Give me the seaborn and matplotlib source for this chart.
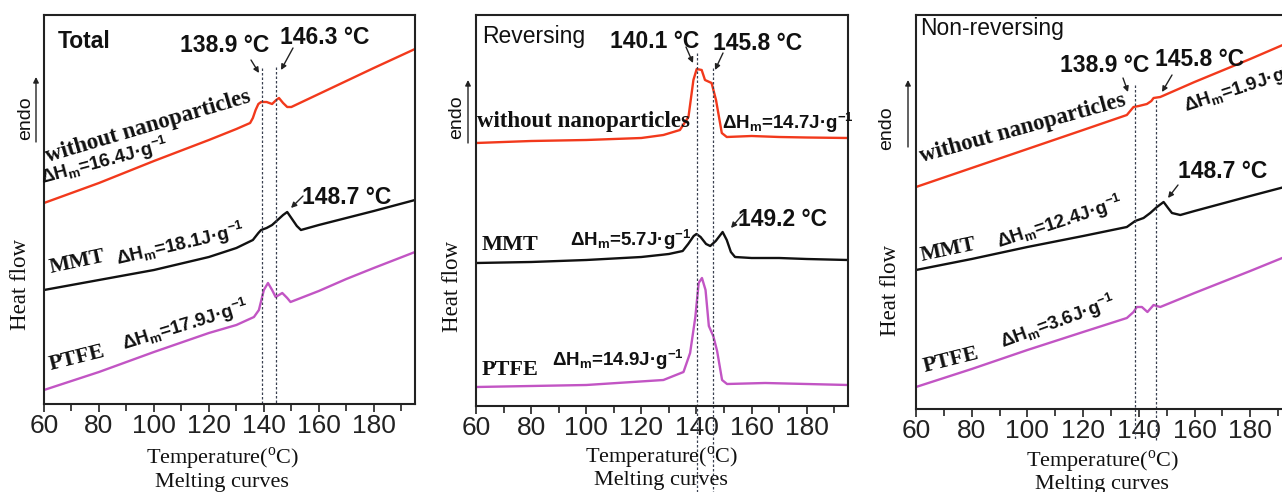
import matplotlib
matplotlib.use("Agg")
import matplotlib.pyplot as plt
import seaborn as sns
import pandas as pd

# ---------------- data (heat flow in arbitrary units) ----------------
# Panel 1: Total
tot_red_T = [60, 80, 100, 120, 130, 135, 136, 137, 138, 139, 141, 143, 144.5, 145.5, 147, 148.5, 150, 160, 170, 180, 195]
tot_red_H = [201, 221, 243, 264, 275, 281, 286, 294, 300, 302, 302, 300, 304, 306, 301, 297, 297, 310, 323, 336, 355]
tot_blk_T = [60, 80, 100, 120, 130, 136, 138, 139, 141, 143, 145, 147, 148.5, 150, 152, 153.5, 160, 170, 180, 195]
tot_blk_H = [114, 124, 134, 147, 156, 164, 171, 174, 176, 179, 184, 189, 192, 186, 178, 174, 179, 186, 193, 204]
tot_mag_T = [60, 80, 100, 120, 130, 136.4, 138.2, 140, 141.5, 143, 144.3, 146.7, 148.5, 149.7, 160, 170, 180, 195]
tot_mag_H = [14, 32, 52, 71, 79, 87, 94, 114, 121, 114, 107, 111, 106, 102, 113, 125, 136, 152]

# Panel 2: Reversing
rev_red_T = [60, 80, 100, 120, 128, 134, 137.1, 138.9, 140.1, 141.9, 143.1, 145.5, 147.1, 149.2, 151, 160, 165, 170, 180, 195]
rev_red_H = [263, 265, 266, 268, 271, 276, 289, 326, 337, 336, 326, 323, 306, 273, 269, 270, 269.5, 269, 268.5, 268]
rev_blk_T = [60, 80, 100, 120, 130, 135, 137, 139, 140, 141.5, 143.5, 145, 147, 149.5, 151, 152.5, 154, 160, 170, 180, 195]
rev_blk_H = [143, 144, 146, 149, 152, 155, 162, 170, 172, 169, 162, 160, 165, 174, 166, 154, 149, 148, 148, 147, 146]
rev_mag_T = [60, 100, 128, 135.3, 137.7, 139.6, 140.8, 142, 143.3, 144.5, 146.1, 147.5, 149.3, 151.1, 165, 180, 195]
rev_mag_H = [19, 21, 26, 34, 53, 89, 123, 128, 116, 80, 70, 55, 26, 22, 23, 22, 21]

# Panel 3: Non-reversing
non_red_T = [60, 80, 100, 120, 135.7, 138.1, 140, 142.9, 144.5, 145.3, 147.7, 160, 180, 195]
non_red_H = [222, 241, 260, 279, 294, 302, 303, 305, 308, 311, 312, 327, 350, 368]
non_blk_T = [60, 80, 100, 120, 135.7, 138.7, 141.7, 144.1, 146.5, 148.9, 150.5, 151.9, 154.9, 160, 180, 195]
non_blk_H = [139, 150, 162, 173, 182, 188, 191, 196, 202, 207, 201, 196, 194, 198, 213, 224]
non_mag_T = [60, 80, 100, 120, 135.7, 138.1, 139.3, 141.1, 143.1, 145.3, 147.7, 160, 180, 195]
non_mag_H = [22, 40, 59, 77, 91, 97, 102, 102, 97, 104, 102, 116, 138, 155]

# marker lines (temperature)
tot_vlines = [139.4, 144.6]
rev_vlines = [140.1, 146.1]
non_vlines = [138.7, 146.1]

panel_titles = ["Total", "Reversing", "Non-reversing"]
samples = ["without nanoparticles", "MMT", "PTFE"]
x_ticks = [60, 80, 100, 120, 140, 160, 180]

RED = "#f2391c"
BLK = "#111111"
MAG = "#c255c4"

# ---------------- style ----------------
sns.set_style("ticks")
plt.rcParams["font.family"] = ["Liberation Sans", "DejaVu Sans"]
plt.rcParams["mathtext.fontset"] = "custom"
plt.rcParams["mathtext.rm"] = "Liberation Sans:bold"
plt.rcParams["mathtext.bf"] = "Liberation Sans:bold"
plt.rcParams["mathtext.it"] = "Liberation Sans:bold"

W, H = 1282, 492
fig = plt.figure(figsize=(W / 100, H / 100), dpi=100)


def P(x, y):
    return (x / W, 1 - y / H)


def make_ax(left, right, top, bottom):
    return fig.add_axes([left / W, 1 - bottom / H, (right - left) / W, (bottom - top) / H])


ax1 = make_ax(44, 415, 15, 404)
ax2 = make_ax(476, 848, 15, 406)
ax3 = make_ax(916, 1292, 15, 409)
ylims = [389, 391, 394]

series = [
    [(tot_red_T, tot_red_H, RED), (tot_blk_T, tot_blk_H, BLK), (tot_mag_T, tot_mag_H, MAG)],
    [(rev_red_T, rev_red_H, RED), (rev_blk_T, rev_blk_H, BLK), (rev_mag_T, rev_mag_H, MAG)],
    [(non_red_T, non_red_H, RED), (non_blk_T, non_blk_H, BLK), (non_mag_T, non_mag_H, MAG)],
]

for ax, ser, yl in zip([ax1, ax2, ax3], series, ylims):
    for T, Hf, c in ser:
        df = pd.DataFrame({"T": T, "H": Hf})
        sns.lineplot(data=df, x="T", y="H", ax=ax, color=c, lw=1.7, estimator=None)
    ax.set_xlim(60, 195)
    ax.set_ylim(0, yl)
    ax.set_xticks(x_ticks)
    ax.set_xticks(range(70, 195, 20), minor=True)
    ax.set_yticks([])
    ax.set_xlabel("")
    ax.set_ylabel("")
    for s in ax.spines.values():
        s.set_visible(True)
        s.set_linewidth(1.5)
        s.set_color("#222222")
    ax.tick_params(axis="x", which="major", direction="out", length=6, width=1.2,
                   labelsize=19, pad=1.5, colors="#222222")
    ax.tick_params(axis="x", which="minor", direction="out", length=5, width=1.2, colors="#222222")

# dashed marker lines
dash = dict(color="#3a4050", lw=0.9, ls=(0, (2, 1.6)), clip_on=False)
ax1.plot([tot_vlines[0]] * 2, [336, 0], **dash)
ax1.plot([tot_vlines[1]] * 2, [337, 0], **dash)
ax2.plot([rev_vlines[0]] * 2, [353, -86], **dash)
ax2.plot([rev_vlines[1]] * 2, [338, -86], **dash)
ax3.plot([non_vlines[0]] * 2, [324, -31], **dash)
ax3.plot([non_vlines[1]] * 2, [309, -31], **dash)

SERIF = ["Liberation Serif", "DejaVu Serif"]
SANS = ["Liberation Sans", "DejaVu Sans"]


def txt(x, y, s, size=16.5, rot=0, family=SANS, weight="bold", ha="center", va="center"):
    fig.text(*P(x, y), s, fontsize=size, rotation=rot, family=family, weight=weight,
             ha=ha, va=va, rotation_mode="anchor", color="#111111")


def arrow(x0, y0, x1, y1):
    fig.add_artist(matplotlib.patches.FancyArrowPatch(
        P(x0, y0), P(x1, y1), transform=fig.transFigure, arrowstyle="-|>",
        mutation_scale=8, lw=1.0, color="#222222", shrinkA=0, shrinkB=0))


def dh(v):
    return "ΔH$_\\mathregular{m}$=" + v + "J·g$^\\mathregular{-1}$"


DHS = 13.5

# ---- Panel 1 texts
txt(58, 42, panel_titles[0], size=16.5, ha="left")
txt(225, 45, "138.9 °C")
txt(325, 38, "146.3 °C")
txt(347, 198, "148.7 °C")
arrow(251, 60, 259, 73)
arrow(293, 48, 281, 70)
arrow(303, 196, 291, 208)
txt(148, 127, samples[0], size=16.5, rot=16.5, family=SERIF)
txt(105, 161, dh("16.4"), size=DHS, rot=15)
txt(77, 262, samples[1], size=16, rot=12, family=SERIF)
txt(180, 244, dh("18.1"), size=DHS, rot=13)
txt(77, 358, samples[2], size=16, rot=14, family=SERIF)
txt(185, 325, dh("17.9"), size=DHS, rot=17)

# ---- Panel 2 texts
txt(482, 36, panel_titles[1], size=16.5, ha="left", weight="normal")
txt(655, 42, "140.1 °C")
txt(758, 43, "145.8 °C")
txt(783, 220, "149.2 °C")
arrow(686, 47, 693, 63)
arrow(723, 53, 715, 70)
arrow(743, 214, 731, 228)
txt(583, 122, samples[0], size=16.5, family=SERIF)
txt(788, 123, dh("14.7"), size=DHS)
txt(510, 245, samples[1], size=16, family=SERIF)
txt(631, 240, dh("5.7"), size=DHS)
txt(510, 370, samples[2], size=16, family=SERIF)
txt(618, 360, dh("14.9"), size=DHS)

# ---- Panel 3 texts
txt(920, 29, panel_titles[2], size=16.5, ha="left", weight="normal")
txt(1105, 65, "138.9 °C")
txt(1200, 60, "145.8 °C")
txt(1223, 172, "148.7 °C")
arrow(1123, 78, 1128, 92)
arrow(1172, 75, 1162, 92)
arrow(1178, 185, 1168, 198)
txt(1023, 128, samples[0], size=16.5, rot=15.5, family=SERIF)
txt(1186, 112, dh("1.9"), size=DHS, rot=18, ha="left", va="baseline")
txt(948, 250, samples[1], size=16, rot=12, family=SERIF)
txt(1060, 222, dh("12.4"), size=DHS, rot=18)
txt(951, 360, samples[2], size=16, rot=14, family=SERIF)
txt(1058, 322, dh("3.6"), size=DHS, rot=20)

# ---- y labels with endo arrows
for hx, hy, ex, ey, ax_x, ay0, ay1 in [(21, 285, 26, 118, 36, 142, 77),
                                        (452, 286, 457, 117, 468, 143, 80),
                                        (891, 290, 887, 128, 908, 147, 80)]:
    txt(hx, hy, "Heat flow", size=16.5, rot=90, family=SERIF, weight="normal")
    txt(ex, ey, "endo", size=14, rot=90, weight="normal")
    arrow(ax_x, ay0, ax_x, ay1)

# ---- x labels
for cx, ty, my in [(222, 459, 483), (661, 458, 481), (1102, 462, 485)]:
    txt(cx, ty, "Temperature($^\\mathregular{o}$C)", size=16, family=SERIF, weight="normal")
    txt(cx, my, "Melting curves", size=16, family=SERIF, weight="normal")

fig.savefig("out.png", dpi=100)
